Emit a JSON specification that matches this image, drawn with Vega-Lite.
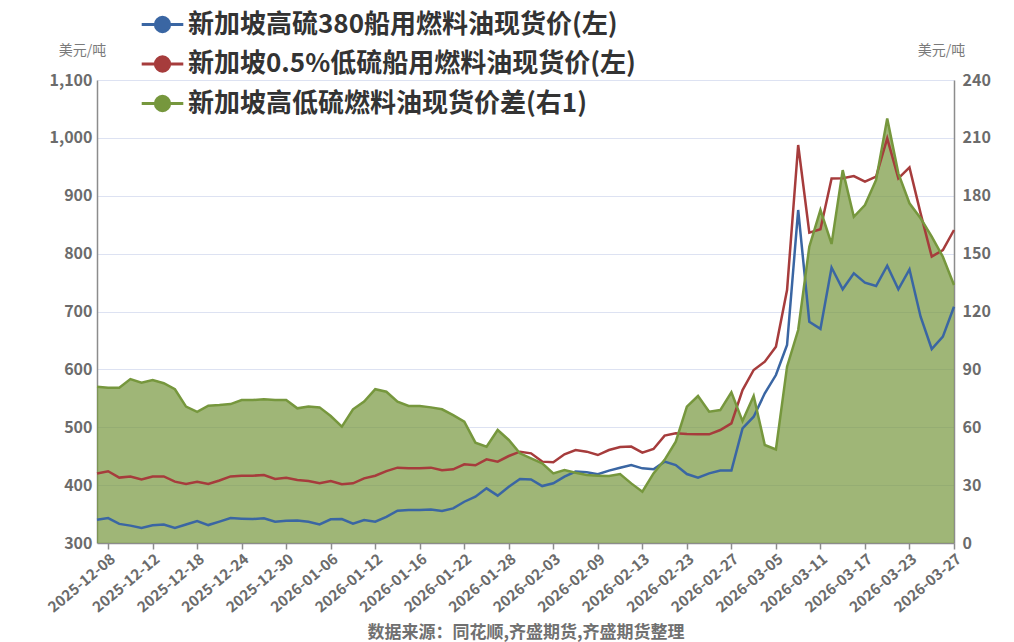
{
  "$schema": "https://vega.github.io/schema/vega-lite/v6.json",
  "width": 857,
  "height": 463,
  "autosize": {"type": "none"},
  "padding": {"left": 97, "top": 80, "right": 60, "bottom": 99},
  "background": "white",
  "config": {
    "view": {"stroke": null},
    "font": "Noto Sans CJK SC",
    "axis": {"labelFont": "Noto Sans CJK SC", "titleFont": "Noto Sans CJK SC"},
    "legend": {"labelFont": "Noto Sans CJK SC"}
  },
  "data": {
    "values": [
      {"date": "2025-12-05", "hsfo": 340, "lsfo": 420, "spread": 81},
      {"date": "2025-12-08", "hsfo": 343, "lsfo": 424, "spread": 80.5},
      {"date": "2025-12-09", "hsfo": 333, "lsfo": 413, "spread": 80.5},
      {"date": "2025-12-10", "hsfo": 330, "lsfo": 415, "spread": 85},
      {"date": "2025-12-11", "hsfo": 326, "lsfo": 410, "spread": 83.1},
      {"date": "2025-12-12", "hsfo": 330.5, "lsfo": 415, "spread": 84.5},
      {"date": "2025-12-15", "hsfo": 332, "lsfo": 415, "spread": 82.8},
      {"date": "2025-12-16", "hsfo": 326, "lsfo": 406, "spread": 79.7},
      {"date": "2025-12-17", "hsfo": 332, "lsfo": 402, "spread": 70.7},
      {"date": "2025-12-18", "hsfo": 338, "lsfo": 406, "spread": 68},
      {"date": "2025-12-19", "hsfo": 331, "lsfo": 402, "spread": 71.2},
      {"date": "2025-12-22", "hsfo": 337, "lsfo": 408, "spread": 71.5},
      {"date": "2025-12-23", "hsfo": 343, "lsfo": 415, "spread": 72},
      {"date": "2025-12-24", "hsfo": 342, "lsfo": 416, "spread": 74.1},
      {"date": "2025-12-25", "hsfo": 341.4, "lsfo": 416.3, "spread": 74.1},
      {"date": "2025-12-26", "hsfo": 342.6, "lsfo": 417.4, "spread": 74.5},
      {"date": "2025-12-29", "hsfo": 336.8, "lsfo": 410.5, "spread": 74.1},
      {"date": "2025-12-30", "hsfo": 338.5, "lsfo": 412.8, "spread": 74.1},
      {"date": "2025-12-31", "hsfo": 339, "lsfo": 408.8, "spread": 69.8},
      {"date": "2026-01-02", "hsfo": 336.8, "lsfo": 407.1, "spread": 70.7},
      {"date": "2026-01-05", "hsfo": 332.2, "lsfo": 403.1, "spread": 70.3},
      {"date": "2026-01-06", "hsfo": 340.9, "lsfo": 407.1, "spread": 65.8},
      {"date": "2026-01-07", "hsfo": 341.4, "lsfo": 401.4, "spread": 60.3},
      {"date": "2026-01-08", "hsfo": 333.4, "lsfo": 403.1, "spread": 69.3},
      {"date": "2026-01-09", "hsfo": 339.7, "lsfo": 411.7, "spread": 73.3},
      {"date": "2026-01-12", "hsfo": 336.8, "lsfo": 416.3, "spread": 79.7},
      {"date": "2026-01-13", "hsfo": 345, "lsfo": 424.3, "spread": 78.4},
      {"date": "2026-01-14", "hsfo": 355.8, "lsfo": 430.2, "spread": 73.3},
      {"date": "2026-01-15", "hsfo": 356.9, "lsfo": 429, "spread": 71},
      {"date": "2026-01-16", "hsfo": 356.9, "lsfo": 429, "spread": 71},
      {"date": "2026-01-19", "hsfo": 358, "lsfo": 430.2, "spread": 70.3},
      {"date": "2026-01-20", "hsfo": 355.2, "lsfo": 425.6, "spread": 69.3},
      {"date": "2026-01-21", "hsfo": 359.8, "lsfo": 427.3, "spread": 66.3},
      {"date": "2026-01-22", "hsfo": 371.3, "lsfo": 435.9, "spread": 62.9},
      {"date": "2026-01-23", "hsfo": 380, "lsfo": 434.2, "spread": 52},
      {"date": "2026-01-26", "hsfo": 394.4, "lsfo": 444.6, "spread": 49.9},
      {"date": "2026-01-27", "hsfo": 381.8, "lsfo": 440.6, "spread": 58.6},
      {"date": "2026-01-28", "hsfo": 397.3, "lsfo": 450.3, "spread": 53.4},
      {"date": "2026-01-29", "hsfo": 410.5, "lsfo": 457.8, "spread": 46.5},
      {"date": "2026-01-30", "hsfo": 409.9, "lsfo": 454.9, "spread": 43.9},
      {"date": "2026-02-02", "hsfo": 398.4, "lsfo": 440.6, "spread": 41.3},
      {"date": "2026-02-03", "hsfo": 403.1, "lsfo": 439.4, "spread": 36.1},
      {"date": "2026-02-04", "hsfo": 414.6, "lsfo": 453.2, "spread": 37.8},
      {"date": "2026-02-05", "hsfo": 423.3, "lsfo": 460.6, "spread": 36.4},
      {"date": "2026-02-06", "hsfo": 422.2, "lsfo": 457.8, "spread": 35.2},
      {"date": "2026-02-09", "hsfo": 418.7, "lsfo": 452, "spread": 34.9},
      {"date": "2026-02-10", "hsfo": 425, "lsfo": 460.6, "spread": 34.7},
      {"date": "2026-02-11", "hsfo": 430, "lsfo": 466, "spread": 35.7},
      {"date": "2026-02-12", "hsfo": 434.7, "lsfo": 466.6, "spread": 30.9},
      {"date": "2026-02-13", "hsfo": 429, "lsfo": 456.1, "spread": 26.6},
      {"date": "2026-02-16", "hsfo": 427.3, "lsfo": 462.4, "spread": 36.1},
      {"date": "2026-02-19", "hsfo": 440.6, "lsfo": 485.5, "spread": 43.1},
      {"date": "2026-02-20", "hsfo": 434.7, "lsfo": 489.5, "spread": 52.5},
      {"date": "2026-02-23", "hsfo": 419.2, "lsfo": 488.3, "spread": 70.7},
      {"date": "2026-02-24", "hsfo": 413, "lsfo": 487.8, "spread": 76.2},
      {"date": "2026-02-25", "hsfo": 420.3, "lsfo": 487.8, "spread": 68.1},
      {"date": "2026-02-26", "hsfo": 425.1, "lsfo": 495.2, "spread": 68.9},
      {"date": "2026-02-27", "hsfo": 425.1, "lsfo": 506.8, "spread": 78.1},
      {"date": "2026-03-02", "hsfo": 498.1, "lsfo": 564.3, "spread": 63.2},
      {"date": "2026-03-03", "hsfo": 518.2, "lsfo": 598.9, "spread": 76.2},
      {"date": "2026-03-04", "hsfo": 558.6, "lsfo": 613.3, "spread": 50.8},
      {"date": "2026-03-05", "hsfo": 590.2, "lsfo": 639.3, "spread": 48.5},
      {"date": "2026-03-06", "hsfo": 642.1, "lsfo": 737.1, "spread": 91.4},
      {"date": "2026-03-09", "hsfo": 875.4, "lsfo": 987.7, "spread": 110.4},
      {"date": "2026-03-10", "hsfo": 682.4, "lsfo": 836.2, "spread": 153.6},
      {"date": "2026-03-11", "hsfo": 670, "lsfo": 842, "spread": 172.6},
      {"date": "2026-03-12", "hsfo": 776, "lsfo": 930, "spread": 155},
      {"date": "2026-03-13", "hsfo": 738.3, "lsfo": 930.1, "spread": 193.3},
      {"date": "2026-03-16", "hsfo": 765.9, "lsfo": 934.1, "spread": 169.1},
      {"date": "2026-03-17", "hsfo": 749.8, "lsfo": 924.3, "spread": 175.2},
      {"date": "2026-03-18", "hsfo": 744, "lsfo": 932.9, "spread": 188.2},
      {"date": "2026-03-19", "hsfo": 779.2, "lsfo": 999.2, "spread": 220.1},
      {"date": "2026-03-20", "hsfo": 738.3, "lsfo": 930, "spread": 191.6},
      {"date": "2026-03-23", "hsfo": 772.8, "lsfo": 949.1, "spread": 176.1},
      {"date": "2026-03-24", "hsfo": 691, "lsfo": 869.6, "spread": 168.3},
      {"date": "2026-03-25", "hsfo": 635.2, "lsfo": 794.7, "spread": 158.8},
      {"date": "2026-03-26", "hsfo": 656.5, "lsfo": 806.2, "spread": 148.4},
      {"date": "2026-03-27", "hsfo": 708.3, "lsfo": 840.8, "spread": 133.7}
    ]
  },
  "encoding": {
    "x": {
      "field": "date",
      "type": "ordinal",
      "scale": {"type": "point", "padding": 0},
      "axis": {
        "values": ["2025-12-08", "2025-12-12", "2025-12-18", "2025-12-24", "2025-12-30", "2026-01-06", "2026-01-12", "2026-01-16", "2026-01-22", "2026-01-28", "2026-02-03", "2026-02-09", "2026-02-13", "2026-02-23", "2026-02-27", "2026-03-05", "2026-03-11", "2026-03-17", "2026-03-23", "2026-03-27"],
        "labelAngle": -40,
        "labelFontSize": 15,
        "labelFontWeight": "bold",
        "labelColor": "#6b6b6b",
        "labelPadding": 2,
        "tickColor": "#8c8c8c",
        "tickSize": 6,
        "tickWidth": 1.5,
        "domainColor": "#8c8c8c",
        "domainWidth": 1.5,
        "grid": false,
        "title": "数据来源：同花顺,齐盛期货,齐盛期货整理",
        "titleFontSize": 17,
        "titleFontWeight": "bold",
        "titleColor": "#707070",
        "titleY": 89,
        "titleBaseline": "middle"
      }
    }
  },
  "layer": [
    {
      "mark": {"type": "area", "opacity": 0.7},
      "encoding": {
        "y": {
          "field": "spread",
          "type": "quantitative",
          "scale": {"domain": [0, 240], "nice": false},
          "axis": {
            "orient": "right",
            "values": [0, 30, 60, 90, 120, 150, 180, 210, 240],
            "labelFontSize": 16,
            "labelFontWeight": "bold",
            "labelColor": "#6b6b6b",
            "labelPadding": 8,
            "ticks": false,
            "grid": false,
            "domainColor": "#8c8c8c",
            "domainWidth": 1.5,
            "title": "美元/吨",
            "titleAngle": 0,
            "titleX": -13,
            "titleY": -30,
            "titleAlign": "center",
            "titleBaseline": "middle",
            "titleFontSize": 14,
            "titleFontWeight": "normal",
            "titleColor": "#7a7a7a"
          }
        },
        "color": {
          "datum": "spread",
          "type": "nominal",
          "title": null,
          "scale": {"domain": ["hsfo", "lsfo", "spread"], "range": ["#3A66A3", "#A63C3C", "#76973D"]},
          "legend": {
            "orient": "none",
            "legendX": 51,
            "legendY": -70,
            "direction": "vertical",
            "title": null,
            "padding": 0,
            "symbolType": "M-1.6,0L1.6,0M-0.55,0A0.55,0.55 0 1,1 0.55,0A0.55,0.55 0 1,1 -0.55,0Z",
            "symbolSize": 676,
            "symbolStrokeWidth": 3,
            "symbolOpacity": 1,
            "labelFontSize": 26,
            "labelFontWeight": "bold",
            "labelColor": "#333333",
            "labelOffset": 11,
            "labelLimit": 900,
            "rowPadding": 11.5,
            "labelExpr": "datum.value == 'hsfo' ? '新加坡高硫380船用燃料油现货价(左)' : datum.value == 'lsfo' ? '新加坡0.5%低硫船用燃料油现货价(左)' : '新加坡高低硫燃料油现货价差(右1)'",
            "encode": {
              "symbols": {
                "update": {
                  "fill": {"scale": "color", "field": "value"},
                  "stroke": {"scale": "color", "field": "value"},
                  "opacity": {"value": 1}
                }
              }
            }
          }
        }
      }
    },
    {
      "transform": [{"fold": ["hsfo", "lsfo"], "as": ["series", "price"]}],
      "mark": {"type": "line", "strokeWidth": 2.5},
      "encoding": {
        "y": {
          "field": "price",
          "type": "quantitative",
          "scale": {"domain": [300, 1100], "nice": false},
          "axis": {
            "orient": "left",
            "values": [300, 400, 500, 600, 700, 800, 900, 1000, 1100],
            "format": ",.0f",
            "labelFontSize": 16,
            "labelFontWeight": "bold",
            "labelColor": "#6b6b6b",
            "labelPadding": 5,
            "ticks": false,
            "grid": true,
            "gridColor": "#dde2f2",
            "gridWidth": 1.2,
            "domainColor": "#8c8c8c",
            "domainWidth": 1.5,
            "title": "美元/吨",
            "titleAngle": 0,
            "titleX": -15,
            "titleY": -30,
            "titleAlign": "center",
            "titleBaseline": "middle",
            "titleFontSize": 14,
            "titleFontWeight": "normal",
            "titleColor": "#7a7a7a"
          }
        },
        "color": {"field": "series", "type": "nominal", "title": null}
      }
    },
    {
      "mark": {"type": "line", "strokeWidth": 2.5},
      "encoding": {
        "y": {
          "field": "spread",
          "type": "quantitative",
          "scale": {"domain": [0, 240], "nice": false},
          "axis": null
        },
        "color": {"datum": "spread", "type": "nominal", "title": null}
      }
    }
  ],
  "resolve": {"scale": {"y": "independent"}}
}
